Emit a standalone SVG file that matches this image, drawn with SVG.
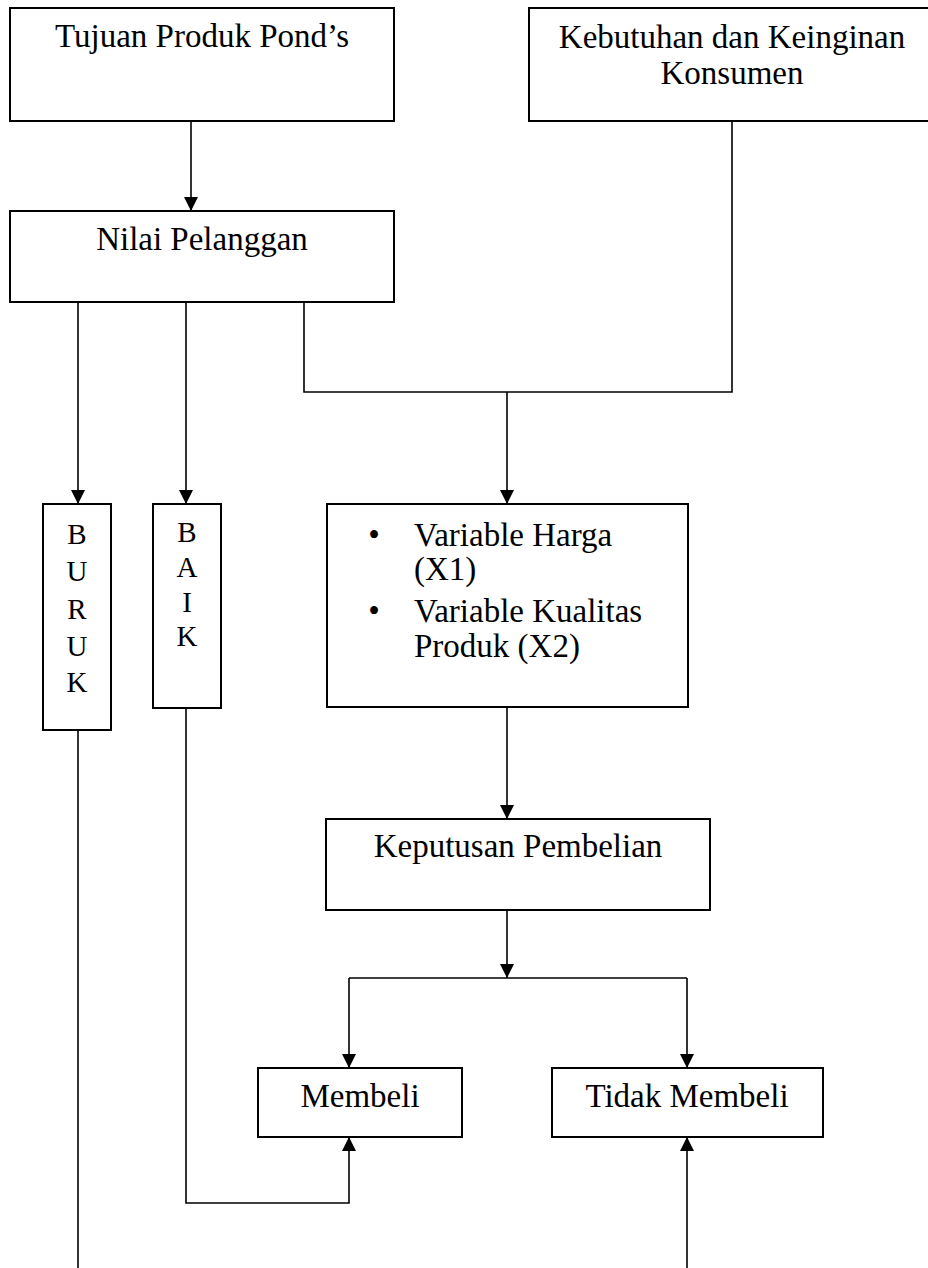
<svg xmlns="http://www.w3.org/2000/svg" width="928" height="1268" viewBox="0 0 928 1268">
<defs>
<style>
.box{fill:#fff;stroke:#000;stroke-width:2}
.t{font-family:"Liberation Serif","Times New Roman",serif;font-size:33px;fill:#000;text-anchor:middle}
.tl{font-family:"Liberation Serif","Times New Roman",serif;font-size:33px;fill:#000;text-anchor:start}
.v{font-family:"Liberation Serif","Times New Roman",serif;font-size:29px;fill:#000;text-anchor:middle}
.c{fill:none;stroke:#000;stroke-width:1.6}
</style>
<marker id="ah" markerUnits="userSpaceOnUse" viewBox="0 0 14 14" refX="14" refY="7" markerWidth="14" markerHeight="14" orient="auto">
<path d="M0,0 L14,7 L0,14 z" fill="#000"/>
</marker>
</defs>
<rect width="928" height="1268" fill="#fff"/>
<g id="connectors">
<path class="c" d="M191,121 V211" marker-end="url(#ah)"/>
<path class="c" d="M78,302 V504" marker-end="url(#ah)"/>
<path class="c" d="M186,302 V504" marker-end="url(#ah)"/>
<path class="c" d="M304,302 V392 H732 V121"/>
<path class="c" d="M507,392 V504" marker-end="url(#ah)"/>
<path class="c" d="M507,707 V819" marker-end="url(#ah)"/>
<path class="c" d="M507,910 V978" marker-end="url(#ah)"/>
<path class="c" d="M349,978 H687"/>
<path class="c" d="M349,978 V1068" marker-end="url(#ah)"/>
<path class="c" d="M687,978 V1068" marker-end="url(#ah)"/>
<path class="c" d="M186,708 V1203 H349 V1137" marker-end="url(#ah)"/>
<path class="c" d="M78,730 V1268"/>
<path class="c" d="M687,1268 V1137" marker-end="url(#ah)"/>
</g>
<g id="tujuan">
<rect class="box" x="10" y="8" width="384" height="113"/>
<text class="t" x="202" y="47">Tujuan Produk Pond’s</text>
</g>
<g id="kebutuhan">
<rect class="box" x="529" y="8" width="420" height="113"/>
<text class="t" x="732" y="48">Kebutuhan dan Keinginan</text>
<text class="t" x="732" y="84">Konsumen</text>
</g>
<g id="nilai">
<rect class="box" x="10" y="211" width="384" height="91"/>
<text class="t" x="202" y="250">Nilai Pelanggan</text>
</g>
<g id="buruk">
<rect class="box" x="43" y="504" width="68" height="226"/>
<text class="v" x="77" y="544">B</text>
<text class="v" x="77" y="581">U</text>
<text class="v" x="77" y="619">R</text>
<text class="v" x="77" y="656">U</text>
<text class="v" x="77" y="692">K</text>
</g>
<g id="baik">
<rect class="box" x="153" y="504" width="68" height="204"/>
<text class="v" x="187" y="542">B</text>
<text class="v" x="187" y="577">A</text>
<text class="v" x="187" y="612">I</text>
<text class="v" x="187" y="646">K</text>
</g>
<g id="variabel">
<rect class="box" x="327" y="504" width="361" height="203"/>
<text class="t" x="374" y="546">•</text>
<text class="tl" x="414" y="546">Variable Harga</text>
<text class="tl" x="414" y="580">(X1)</text>
<text class="t" x="374" y="622">•</text>
<text class="tl" x="414" y="622">Variable Kualitas</text>
<text class="tl" x="414" y="657">Produk (X2)</text>
</g>
<g id="keputusan">
<rect class="box" x="326" y="819" width="384" height="91"/>
<text class="t" x="518" y="857">Keputusan Pembelian</text>
</g>
<g id="membeli">
<rect class="box" x="258" y="1068" width="204" height="69"/>
<text class="t" x="360" y="1107">Membeli</text>
</g>
<g id="tidak">
<rect class="box" x="552" y="1068" width="271" height="69"/>
<text class="t" x="687" y="1107">Tidak Membeli</text>
</g>
</svg>
